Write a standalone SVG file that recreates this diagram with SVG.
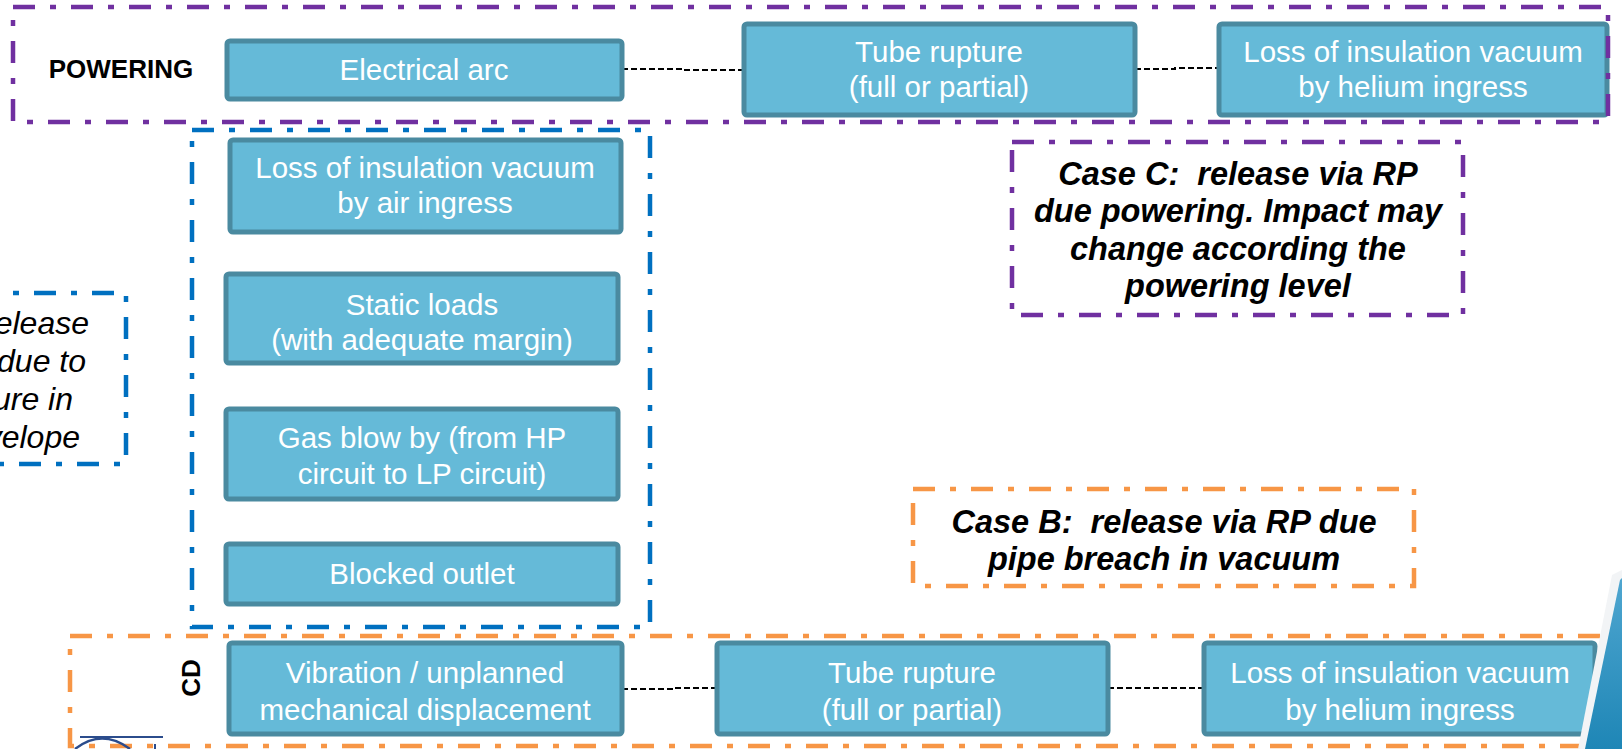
<svg xmlns="http://www.w3.org/2000/svg" width="1622" height="749" viewBox="0 0 1622 749">
<defs>
<style>
.node rect { fill:#65BAD8; stroke:#4A8AA0; stroke-width:5; }
.node text { font-family:"Liberation Sans", Arial, sans-serif; font-size:29.5px; fill:#ffffff; text-anchor:middle; }
.frame { fill:none; stroke-width:4.5; stroke-dasharray:22 15 6 15; }
.purple { stroke:#7030A0; }
.blue { stroke:#0070C0; }
.orange { stroke:#F79646; }
.conn { fill:none; stroke:#000000; stroke-width:2; stroke-dasharray:6 3; }
.case { font-family:"Liberation Sans", Arial, sans-serif; font-size:32.5px; font-style:italic; font-weight:bold; fill:#000000; text-anchor:middle; }
.casea { font-family:"Liberation Sans", Arial, sans-serif; font-size:32px; font-style:italic; fill:#000000; text-anchor:end; }
.label { font-family:"Liberation Sans", Arial, sans-serif; font-size:26px; font-weight:bold; fill:#000000; text-anchor:middle; }
</style>
<linearGradient id="triGrad" x1="0" y1="0" x2="0" y2="1">
<stop offset="0" stop-color="#4FA6D0"/>
<stop offset="1" stop-color="#1E86B6"/>
</linearGradient>
</defs>

<g id="connectors">
<path class="conn" d="M622,69 H683 V70 H744"/>
<path class="conn" d="M1135,69 H1175 V68 H1219"/>
<path class="conn" d="M622,689 H672 V688 H717"/>
<path class="conn" d="M1108,688 H1204"/>
</g>

<g id="powering-label"><text class="label" x="121" y="78">POWERING</text></g>
<g id="cd-label"><text class="label" transform="translate(200,678) rotate(-90)" x="0" y="0">CD</text></g>

<g id="n-electrical-arc" class="node">
<rect x="227" y="41" width="395" height="58" rx="3"/>
<text x="424" y="80">Electrical arc</text>
</g>
<g id="n-tube-rupture-top" class="node">
<rect x="744" y="24" width="391" height="91" rx="3"/>
<text x="939" y="62">Tube rupture</text>
<text x="939" y="97">(full or partial)</text>
</g>
<g id="n-helium-top" class="node">
<rect x="1219" y="24" width="388" height="91" rx="3"/>
<text x="1413" y="62">Loss of insulation vacuum</text>
<text x="1413" y="97">by helium ingress</text>
</g>
<g id="n-air-ingress" class="node">
<rect x="230" y="140" width="391" height="92" rx="3"/>
<text x="425" y="178">Loss of insulation vacuum</text>
<text x="425" y="213">by air ingress</text>
</g>
<g id="n-static-loads" class="node">
<rect x="226" y="274" width="392" height="89" rx="3"/>
<text x="422" y="315">Static loads</text>
<text x="422" y="350">(with adequate margin)</text>
</g>
<g id="n-gas-blow-by" class="node">
<rect x="226" y="409" width="392" height="90" rx="3"/>
<text x="422" y="448">Gas blow by (from HP</text>
<text x="422" y="484">circuit to LP circuit)</text>
</g>
<g id="n-blocked-outlet" class="node">
<rect x="226" y="544" width="392" height="60" rx="3"/>
<text x="422" y="584">Blocked outlet</text>
</g>
<g id="n-vibration" class="node">
<rect x="229" y="643" width="393" height="91" rx="3"/>
<text x="425" y="683">Vibration / unplanned</text>
<text x="425" y="720">mechanical displacement</text>
</g>
<g id="n-tube-rupture-bottom" class="node">
<rect x="717" y="643" width="391" height="91" rx="3"/>
<text x="912" y="683">Tube rupture</text>
<text x="912" y="720">(full or partial)</text>
</g>
<g id="n-helium-bottom" class="node">
<rect x="1204" y="643" width="391" height="91" rx="3"/>
<text x="1400" y="683">Loss of insulation vacuum</text>
<text x="1400" y="720">by helium ingress</text>
</g>

<g id="frame-powering"><rect class="frame purple" x="13" y="7" width="1595" height="115"/></g>
<g id="frame-middle"><rect class="frame blue" x="192" y="130" width="458" height="497"/></g>
<g id="frame-cd"><rect class="frame orange" x="70" y="636" width="1600" height="110"/></g>

<g id="case-a">
<rect class="frame blue" x="-24" y="293" width="150" height="171"/>
<text class="casea" x="89" y="334">release</text>
<text class="casea" x="86" y="372">due to</text>
<text class="casea" x="73" y="410">ure in</text>
<text class="casea" x="80" y="448">velope</text>
</g>
<g id="case-c">
<rect class="frame purple" x="1012" y="142" width="451" height="173"/>
<text class="case" x="1238" y="185" xml:space="preserve">Case C:  release via RP</text>
<text class="case" x="1238" y="222">due powering. Impact may</text>
<text class="case" x="1238" y="260">change according the</text>
<text class="case" x="1238" y="297">powering level</text>
</g>
<g id="case-b">
<rect class="frame orange" x="913" y="489" width="501" height="97"/>
<text class="case" x="1164" y="533" xml:space="preserve">Case B:  release via RP due</text>
<text class="case" x="1164" y="570">pipe breach in vacuum</text>
</g>

<g id="decor">
<polygon points="1612,575 1622,570 1622,749 1578,749" fill="#F2F4F6"/>
<polygon points="1620,580 1622,578 1622,749 1585,749" fill="url(#triGrad)"/>
<path d="M75,749 Q102,728 130,749" fill="none" stroke="#2B4C8C" stroke-width="2.5"/>
<path d="M80,737 H163" fill="none" stroke="#2B4C8C" stroke-width="2"/>
<path d="M155,744 V749" fill="none" stroke="#2B4C8C" stroke-width="2"/>
</g>
</svg>
